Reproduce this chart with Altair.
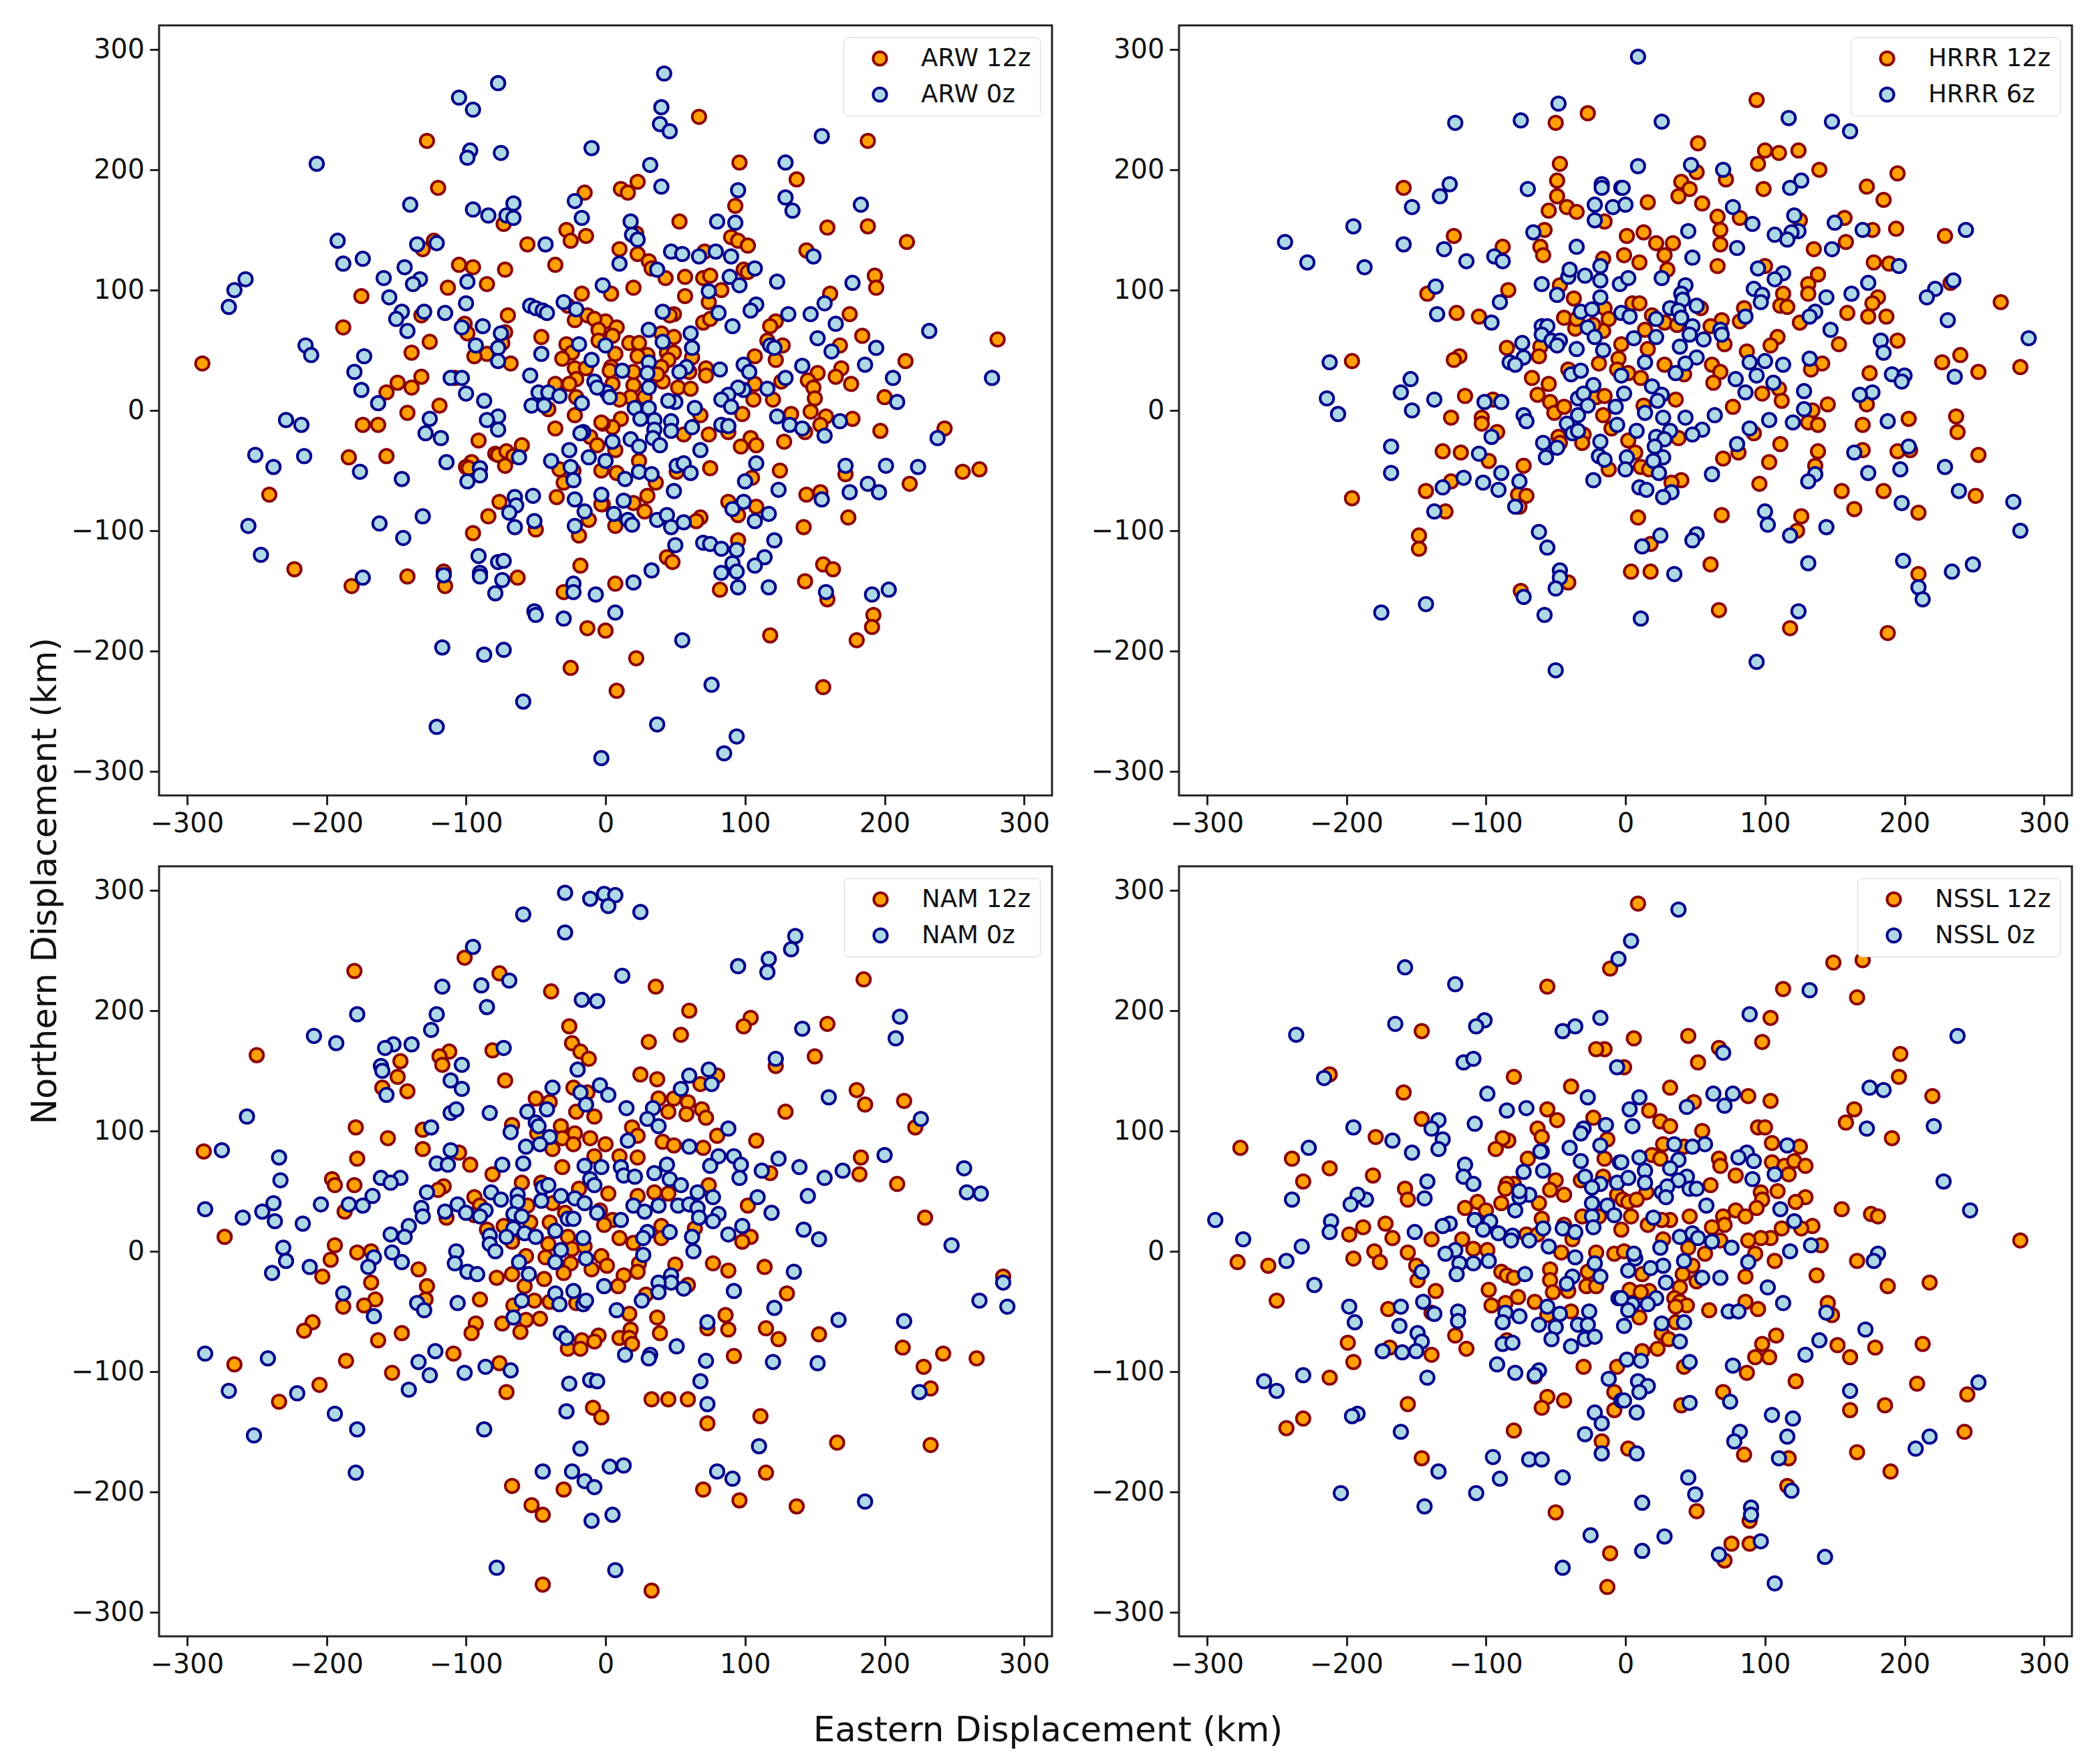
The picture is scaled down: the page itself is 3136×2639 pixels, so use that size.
import altair as alt
import pandas as pd

arw12 = [(67,244),(188,224),(96,206),(137,192),(11,184),(16,181),(23,190),(93,170),(53,157),(159,152),(188,153),(216,140),(22,147),(90,144),(95,141),(102,137),(10,134),(23,130),(144,133),(31,124),(33,118),(43,110),(71,132),(99,117),(102,115),(57,111),(70,110),(75,112),(193,112),(194,102),(20,102),(4,97),(83,100),(57,95),(161,97),(74,90),(49,80),(46,79),(175,80),(70,73),(75,76),(122,74),(118,70),(184,62),(116,58),(127,54),(122,42),(168,54),(40,64),(49,61),(17,56),(24,56),(0,74),(8,69),(5,62),(7,47),(107,45),(215,41),(281,59),(169,35),(165,28),(152,31),(145,25),(176,22),(149,19),(150,10),(200,11),(72,35),(72,29),(126,24),(120,9),(106,9),(107,22),(41,24),(52,19),(61,18),(20,21),(28,11),(18,11),(10,9),(44,48),(49,48),(30,46),(23,45),(62,44),(45,42),(4,36),(40,36),(20,32),(37,30),(60,32),(3,33),(5,22),
(11,-7),(5,-14),(-2,-11),(98,-3),(88,-18),(133,-3),(147,-1),(158,-5),(177,-7),(154,-12),(143,-18),(197,-17),(243,-15),(74,-20),(56,-20),(68,-4),(128,-26),(104,-23),(97,-30),(108,-29),(7,-33),(24,-42),(75,-48),(125,-50),(256,-51),(268,-49),(51,-51),(105,-56),(8,-52),(172,-53),(36,-60),(218,-61),(144,-70),(154,-68),(30,-71),(20,-77),(28,-84),(88,-76),(108,-80),(95,-87),(-2,-78),(174,-89),(68,-89),(65,-92),(142,-97),(7,-96),(95,-108),(44,-122),(48,-126),(156,-128),(163,-132),(143,-142),(7,-144),(82,-149),(159,-157),(192,-170),(191,-180),(0,-183),(118,-187),(180,-191),(22,-206),(8,-233),(156,-230),
(-128,224),(-120,185),(-73,155),(-15,181),(-28,150),(-25,141),(-14,145),(-56,138),(-123,141),(-131,134),(-105,121),(-95,119),(-72,117),(-36,121),(-85,105),(-113,102),(-175,95),(-17,97),(-27,87),(-132,79),(-70,79),(-101,72),(-99,64),(-72,65),(-74,56),(-13,79),(-22,75),(-8,76),(-5,67),(-5,58),(-188,69),(-126,57),(-139,48),(-46,61),(-28,55),(-24,48),(-31,43),(-85,47),(-94,45),(-68,39),(-289,39),(-22,35),(-14,35),(-21,26),(-26,22),(-36,22),(-132,28),(-149,23),(-139,19),(-157,15),(-108,27),(-119,4),(-21,11),
(-142,-2),(-174,-12),(-163,-12),(-36,-15),(-41,1),(-22,-4),(-3,-10),(-91,-25),(-60,-29),(-11,-22),(-6,-29),(-79,-36),(-77,-37),(-71,-34),(-66,-38),(-72,-46),(-184,-39),(-157,-38),(-96,-43),(-100,-47),(-98,-48),(-33,-49),(-30,-60),(-23,-50),(-3,-50),(-241,-70),(-76,-76),(-35,-72),(-3,-78),(-84,-88),(-12,-91),(-95,-102),(-50,-99),(-19,-104),(-18,-129),(-223,-132),(-142,-138),(-116,-134),(-115,-146),(-182,-146),(-63,-139),(-30,-151),(-13,-181),(-25,-214)]
arw0 = [(42,280),(40,252),(39,238),(46,232),(155,228),(129,206),(32,204),(40,186),(95,183),(129,177),(134,166),(183,171),(18,157),(80,157),(93,156),(19,146),(23,142),(47,132),(55,130),(67,128),(79,132),(90,128),(149,128),(10,122),(37,117),(107,118),(89,111),(96,104),(123,107),(177,106),(-2,104),(74,99),(157,89),(108,88),(104,83),(41,82),(81,81),(131,80),(147,80),(165,72),(91,70),(31,67),(232,66),(61,64),(152,60),(41,57),(62,52),(194,52),(118,54),(121,52),(162,49),(0,54),(186,38),(141,37),(82,34),(99,38),(103,32),(58,36),(53,32),(31,40),(30,31),(12,33),(206,27),(277,27),(129,27),(99,17),(95,19),(116,18),(31,19),(88,13),(83,9),(1,15),(3,11),(50,7),(45,8),(209,7),(64,2),(21,2),(31,2),(90,3),
(123,-5),(132,-12),(141,-15),(168,-9),(157,-21),(238,-23),(25,-7),(35,-8),(47,-9),(35,-16),(47,-17),(62,-14),(83,-12),(88,-13),(34,-23),(39,-29),(18,-24),(5,-26),(24,-30),(68,-33),(0,-42),(108,-44),(51,-46),(56,-44),(61,-52),(24,-51),(33,-53),(14,-57),(172,-46),(201,-46),(224,-47),(100,-59),(124,-66),(49,-67),(188,-61),(196,-68),(175,-68),(155,-74),(-3,-70),(13,-75),(99,-76),(91,-82),(117,-86),(107,-92),(6,-86),(16,-91),(19,-95),(37,-91),(44,-87),(47,-97),(56,-93),(121,-108),(50,-112),(70,-110),(75,-111),(83,-115),(94,-116),(114,-122),(91,-127),(107,-129),(94,-134),(83,-135),(33,-133),(20,-143),(95,-147),(117,-147),(158,-151),(191,-153),(203,-149),(7,-168),(55,-191),(76,-228),(37,-261),(94,-271),(85,-285),(-3,-289),
(-77,272),(-105,260),(-95,250),(-97,216),(-99,210),(-75,214),(-10,218),(-207,205),(-140,171),(-95,167),(-84,162),(-66,172),(-71,162),(-66,160),(-22,174),(-17,160),(-192,141),(-135,138),(-121,139),(-43,138),(-188,122),(-174,126),(-144,119),(-159,110),(-133,109),(-138,105),(-99,107),(-258,109),(-266,100),(-270,86),(-155,94),(-100,89),(-146,82),(-130,82),(-150,76),(-115,81),(-142,66),(-103,69),(-88,70),(-75,64),(-93,54),(-77,52),(-77,41),(-54,87),(-50,85),(-45,83),(-42,81),(-30,90),(-21,84),(-19,55),(-46,47),(-10,42),(-215,54),(-211,46),(-173,45),(-180,32),(-175,17),(-163,6),(-111,27),(-103,27),(-100,14),(-87,8),(-54,29),(-48,15),(-41,15),(-33,12),(-8,24),(-6,19),(-53,4),(-44,4),(-17,6),
(-229,-8),(-218,-12),(-126,-7),(-77,-5),(-85,-8),(-77,-16),(-129,-19),(-118,-23),(-16,-18),(-18,-19),(-251,-37),(-238,-47),(-216,-38),(-176,-51),(-146,-57),(-114,-43),(-90,-48),(-90,-54),(-99,-59),(-62,-39),(-39,-42),(-26,-33),(-12,-39),(-25,-47),(-23,-58),(-65,-72),(-64,-79),(-52,-71),(-69,-85),(-65,-97),(-51,-92),(-22,-74),(-15,-84),(-22,-96),(-256,-96),(-247,-120),(-162,-94),(-131,-88),(-145,-106),(-91,-121),(-77,-126),(-73,-125),(-90,-135),(-90,-138),(-74,-141),(-79,-152),(-174,-139),(-116,-137),(-23,-144),(-23,-151),(-7,-153),(-51,-167),(-50,-170),(-30,-173),(-117,-197),(-87,-203),(-73,-199),(-59,-242),(-121,-263)]

hrrr12 = [(-50,239),(-27,247),(-47,205),(-49,191),(-49,178),(-159,185),(-55,166),(-42,169),(-35,165),(-15,157),(-58,150),(-123,145),(-88,136),(-61,136),(-59,129),(-16,126),(-142,97),(-84,100),(-47,104),(-37,93),(-121,81),(-105,78),(-44,77),(-36,68),(-35,76),(-15,85),(-12,76),(-16,66),(-23,71),(-85,52),(-61,53),(-62,45),(-5,43),(-119,45),(-123,42),(-196,41),(-19,39),(-41,34),(-6,34),(-67,27),(-55,22),(-63,13),(-54,7),(-115,12),(-95,9),(-51,-2),(-44,3),(-21,11),(-15,12),(-125,-6),(-103,-6),(-103,-11),(-16,-4),(-92,-18),(-10,-15),(-48,-22),(-30,-20),(-31,-27),(-47,-27),(-131,-34),(-118,-35),(-98,-42),(-73,-46),(-12,-49),(-125,-59),(-143,-67),(-77,-70),(-71,-71),(-76,-80),(-196,-73),(-129,-84),(-148,-104),(-148,-115),(-41,-143),(-75,-150),
(94,258),(52,222),(100,216),(110,214),(124,216),(95,205),(139,200),(195,197),(51,198),(40,190),(72,192),(99,184),(46,184),(38,178),(173,186),(185,175),(16,173),(55,172),(66,161),(82,160),(157,160),(125,158),(68,150),(177,150),(194,151),(229,145),(1,145),(13,148),(22,139),(34,139),(68,138),(158,140),(135,134),(28,129),(-1,129),(10,123),(178,123),(189,122),(66,120),(100,120),(30,117),(138,113),(131,105),(131,97),(113,97),(233,106),(181,94),(177,89),(269,90),(5,89),(10,89),(54,85),(85,85),(111,87),(116,86),(159,81),(174,78),(187,78),(19,79),(82,74),(69,75),(125,73),(28,73),(37,71),(61,70),(14,67),(109,61),(195,58),(153,55),(104,54),(71,55),(16,51),(-3,55),(87,49),(240,46),(227,40),(141,39),(28,38),(62,38),(133,34),(253,32),(283,36),(175,31),(68,32),(11,27),(2,31),(42,30),(63,23),(110,18),(98,14),(36,9),(112,8),(145,5),(77,3),(173,5),(134,0),(13,4),(203,-7),(237,-5),(238,-18),(131,-10),(138,-12),(170,-12),(92,-19),(38,-23),(2,-25),(111,-28),(170,-33),(195,-34),(204,-33),(138,-34),(81,-35),(70,-40),(103,-43),(253,-37),(7,-35),(11,-47),(17,-49),(136,-46),(96,-61),(40,-58),(33,-60),(155,-67),(185,-67),(251,-71),(164,-82),(210,-85),(69,-87),(9,-89),(126,-88),(123,-100),(18,-111),(61,-128),(4,-134),(18,-134),(210,-136),(67,-166),(118,-181),(188,-185)]
hrrr6 = [(-48,255),(-122,239),(-75,241),(-70,184),(-126,188),(-133,178),(-153,169),(-195,153),(-244,140),(-228,123),(-187,119),(-159,138),(-130,134),(-114,124),(-94,128),(-88,124),(-66,148),(-35,136),(-22,158),(-22,171),(-17,188),(-17,185),(-3,185),(-9,169),(-60,105),(-41,111),(-40,117),(-29,112),(-18,120),(-18,108),(-4,105),(-136,103),(-90,90),(-49,96),(-18,94),(-135,80),(-96,73),(-32,82),(-24,84),(-3,81),(-60,70),(-56,70),(-60,63),(-27,69),(-22,61),(-53,58),(-47,58),(-49,54),(-74,56),(-73,44),(-83,40),(-79,38),(-35,51),(-16,50),(-212,40),(-39,30),(-32,33),(-23,21),(-154,26),(-161,15),(-214,10),(-206,-3),(-137,9),(-101,7),(-89,7),(-34,10),(-30,14),(-153,0),(-73,-4),(-71,-9),(-27,4),(-34,-4),(-7,3),(-42,-11),(-38,-19),(-34,-17),(-6,-12),(-96,-22),(-168,-30),(-59,-27),(-49,-31),(-18,-26),(-105,-36),(-57,-39),(-19,-38),(-15,-41),(-168,-52),(-116,-56),(-89,-52),(-76,-59),(-102,-60),(-131,-64),(-91,-66),(-23,-58),(-79,-80),(-137,-84),(-62,-101),(-56,-114),(-47,-133),(-47,-139),(-50,-148),(-143,-161),(-175,-168),(-73,-155),(-58,-170),(-50,-216),
(9,294),(26,240),(117,243),(148,240),(161,232),(9,203),(47,204),(70,200),(126,191),(118,185),(-2,185),(0,171),(77,169),(150,156),(121,162),(91,155),(170,150),(244,150),(45,149),(124,149),(107,146),(119,148),(116,142),(80,135),(148,134),(48,127),(196,120),(95,118),(113,114),(107,109),(2,110),(26,110),(43,104),(174,106),(235,108),(92,101),(40,97),(222,101),(98,96),(162,97),(144,94),(216,94),(41,92),(97,90),(51,87),(32,85),(38,83),(22,76),(3,78),(86,78),(136,82),(132,78),(231,75),(40,77),(48,70),(147,67),(68,67),(69,63),(46,63),(22,61),(56,59),(6,60),(183,58),(289,60),(39,53),(185,48),(51,44),(132,43),(100,41),(89,40),(113,38),(43,39),(14,40),(191,30),(200,29),(198,24),(236,28),(36,31),(94,29),(-3,29),(79,26),(106,23),(19,20),(86,15),(128,16),(26,13),(177,15),(168,13),(-1,14),(23,8),(128,1),(14,-2),(64,-4),(27,-6),(43,-6),(103,-8),(120,-10),(188,-9),(55,-16),(89,-15),(8,-17),(32,-17),(48,-20),(22,-22),(28,-24),(21,-30),(80,-28),(203,-30),(164,-35),(1,-39),(27,-39),(20,-42),(0,-49),(197,-49),(229,-47),(24,-52),(62,-53),(174,-52),(136,-53),(131,-59),(10,-64),(15,-66),(33,-68),(27,-72),(239,-67),(278,-76),(198,-77),(100,-84),(102,-95),(283,-100),(144,-97),(118,-104),(25,-104),(51,-103),(48,-108),(12,-113),(131,-127),(199,-125),(249,-128),(234,-134),(35,-136),(210,-147),(213,-157),(124,-167),(11,-173),(94,-209)]

nam12 = [(-101,244),(-180,233),(-76,231),(-39,216),(-26,187),(-24,173),(-18,166),(-12,160),(-250,163),(-112,166),(-119,162),(-117,155),(-81,167),(-147,158),(-149,145),(-72,142),(-160,136),(-142,133),(-23,136),(-13,132),(-50,127),(-40,124),(-21,116),(-8,112),(-179,103),(-156,94),(-131,101),(-67,105),(-32,104),(-22,98),(-49,98),(-31,94),(-11,94),(-23,89),(-288,83),(-38,85),(-131,85),(-105,82),(-8,79),(-178,77),(-97,72),(-31,70),(-81,64),(-196,60),(-194,55),(-180,55),(-60,57),(-46,57),(-116,54),(-120,51),(-94,45),(-19,52),(-90,38),(-187,33),(-38,40),(-56,38),(-4,34),(-94,30),(-114,28),(-29,32),(-54,24),(-73,21),(-85,18),(-40,24),(-27,12),(-273,12),(-57,-4),(-41,6),(-67,8),(-194,5),(-178,-1),(-168,0),(-24,2),(-15,4),(-43,-5),(-3,-4),(-197,-7),(-25,-10),(-10,-15),(-30,-18),(-134,-15),(-78,-22),(-67,-19),(-203,-21),(-44,-23),(-168,-26),(-128,-29),(-58,-29),(-90,-40),(-51,-41),(-165,-40),(-188,-46),(-173,-45),(-129,-40),(-66,-45),(-21,-43),(-40,-42),(-210,-59),(-216,-66),(-93,-60),(-74,-60),(-57,-57),(-47,-56),(-96,-68),(-146,-68),(-61,-67),(-163,-74),(-5,-70),(-17,-74),(-8,-75),(-27,-81),(-18,-81),(-109,-85),(-266,-94),(-186,-91),(-76,-93),(-153,-101),(-205,-111),(-71,-117),(-234,-125),(-9,-130),(-3,-138),(-67,-195),(-30,-198),(-53,-211),(-45,-219),(-45,-277),
(185,226),(36,220),(60,200),(104,194),(99,187),(159,189),(54,180),(31,174),(150,162),(122,154),(25,147),(37,143),(80,146),(68,139),(180,134),(214,125),(186,122),(38,127),(49,127),(59,124),(69,118),(45,116),(58,114),(72,111),(129,116),(222,103),(19,103),(23,96),(80,96),(108,92),(41,91),(49,88),(0,89),(70,86),(10,79),(23,78),(183,78),(118,65),(182,64),(209,56),(74,55),(2,48),(23,46),(35,49),(45,48),(102,38),(229,28),(40,21),(64,19),(5,26),(-1,22),(10,11),(40,11),(20,7),(104,12),(98,8),(1,-12),(50,-11),(77,-10),(88,-16),(114,-13),(24,-10),(23,-17),(13,-20),(9,-29),(29,-36),(59,-28),(130,-35),(285,-21),(17,-52),(37,-55),(86,-53),(39,-68),(88,-65),(115,-64),(18,-65),(73,-64),(124,-73),(153,-69),(10,-72),(17,-72),(19,-77),(213,-80),(242,-85),(92,-87),(266,-89),(228,-96),(233,-114),(33,-123),(45,-123),(59,-123),(111,-137),(73,-143),(166,-159),(233,-161),(115,-184),(70,-198),(96,-207),(137,-212),(33,-282)]
nam0 = [(-29,298),(-11,293),(-1,297),(-59,280),(-29,265),(-95,253),(-69,225),(-117,220),(-89,221),(-85,203),(-17,209),(-6,208),(-178,197),(-121,197),(-125,184),(-209,179),(-193,173),(-139,172),(-152,172),(-158,169),(-73,169),(-161,154),(-160,150),(-103,155),(-20,151),(-111,142),(-103,135),(-157,130),(-38,136),(-4,138),(-18,132),(-14,122),(-42,118),(-56,116),(-257,112),(-111,115),(-107,118),(-83,115),(-50,107),(-48,104),(-125,103),(-68,99),(-40,95),(-47,89),(-57,87),(-275,84),(-234,78),(-111,84),(-121,73),(-113,72),(-74,72),(-59,73),(-15,71),(-3,70),(-233,59),(-161,61),(-147,61),(-154,57),(-11,60),(-8,55),(-128,49),(-82,49),(-45,53),(-41,55),(-63,47),(-167,46),(-32,46),(-22,44),(-75,43),(-46,42),(-15,40),(-238,40),(-204,39),(-184,39),(-174,38),(-106,39),(-132,36),(-63,41),(-287,35),(-246,33),(-115,33),(-100,32),(-86,34),(-6,32),(-131,29),(-90,29),(-66,31),(-60,29),(-260,28),(-27,27),(-23,27),(-237,25),(-217,23),(-141,21),(-66,19),(-36,17),(-154,14),(-144,12),(-58,15),(-83,13),(-71,12),(-50,12),(-16,11),(-83,6),(-79,0),(-231,3),(-107,0),(-32,1),(-153,-1),(-166,-5),(-229,-8),(-108,-10),(-62,-9),(-36,-9),(-14,-6),(-212,-13),(-170,-13),(-146,-9),(-99,-17),(-92,-19),(-239,-18),(-55,-19),(-188,-35),(-36,-35),(-23,-33),(-135,-43),(-106,-43),(-60,-41),(-130,-49),(-33,-44),(-16,-44),(-14,-41),(-166,-54),(-66,-55),(-32,-68),(-28,-72),(-287,-85),(-122,-83),(-242,-89),(-134,-92),(-86,-96),(-68,-99),(-101,-101),(-126,-103),(-270,-116),(-141,-115),(-221,-118),(-26,-110),(-11,-107),(-6,-108),(-28,-133),(-194,-135),(-178,-148),(-87,-148),(-252,-153),(-18,-164),(-179,-184),(-45,-183),(-24,-183),(-15,-191),(-8,-196),(-10,-224),(-78,-263),
(7,296),(2,287),(25,282),(136,262),(133,251),(117,243),(116,232),(95,237),(12,229),(211,195),(208,177),(141,185),(122,160),(74,151),(76,139),(60,146),(54,135),(160,128),(226,110),(2,130),(15,119),(34,119),(30,110),(38,104),(88,102),(16,92),(60,87),(200,80),(124,77),(257,69),(81,79),(92,79),(97,72),(75,71),(44,72),(139,70),(170,67),(112,67),(96,61),(157,61),(35,65),(11,70),(13,63),(21,62),(46,60),(54,55),(259,49),(269,48),(145,46),(66,49),(77,45),(109,45),(20,38),(38,38),(52,38),(28,33),(60,39),(66,36),(67,28),(81,31),(77,25),(119,32),(11,26),(98,21),(142,18),(46,16),(30,16),(27,11),(88,14),(153,10),(62,12),(248,5),(27,-3),(63,0),(135,-17),(47,-20),(47,-26),(38,-26),(38,-34),(56,-31),(-1,-29),(92,-33),(26,-41),(285,-26),(268,-41),(288,-46),(121,-47),(8,-49),(167,-57),(214,-58),(73,-59),(51,-79),(32,-86),(14,-86),(31,-89),(72,-91),(120,-92),(152,-93),(68,-108),(225,-117),(73,-127),(110,-162),(13,-178),(3,-179),(80,-183),(91,-189),(186,-208),(5,-219),(7,-265)]

nssl12 = [(-11,235),(-56,220),(-146,183),(-15,168),(-21,168),(-212,147),(-80,145),(-159,132),(-39,137),(-56,118),(-146,110),(-49,109),(-23,111),(-63,102),(-13,93),(-60,95),(-84,92),(-88,94),(-93,85),(-276,86),(-179,95),(-239,77),(-70,77),(-15,77),(-212,69),(-181,63),(-231,58),(-50,59),(-16,62),(-80,56),(-85,56),(-86,52),(-32,59),(-158,52),(-156,43),(-54,51),(-44,47),(-6,47),(-106,41),(-115,36),(-100,34),(-89,40),(-62,40),(-31,29),(-19,29),(-60,27),(-44,22),(-172,23),(-188,20),(-198,14),(-167,11),(-139,10),(-117,10),(-71,14),(-63,14),(-38,10),(-109,2),(-99,1),(-180,0),(-156,-1),(-46,-1),(-21,-1),(-8,-2),(-278,-9),(-256,-12),(-195,-6),(-176,-9),(-150,-12),(-54,-15),(-89,-17),(-85,-20),(-80,-22),(-54,-24),(-27,-17),(-149,-24),(-98,-32),(-136,-33),(-52,-34),(-41,-33),(-28,-29),(-21,-29),(-250,-41),(-77,-38),(-65,-42),(-86,-43),(-96,-45),(-170,-48),(-139,-51),(-56,-53),(-39,-50),(-122,-70),(-199,-76),(-169,-80),(-114,-81),(-139,-86),(-85,-74),(-195,-92),(-30,-96),(-6,-96),(-212,-105),(-65,-104),(-8,-117),(-156,-127),(-56,-121),(-44,-124),(-60,-130),(-8,-132),(-231,-139),(-243,-147),(-80,-149),(-17,-158),(-146,-172),(-50,-217),(-11,-251),(-13,-279),
(9,289),(170,242),(149,240),(113,218),(166,211),(104,194),(6,177),(45,179),(98,174),(67,169),(197,164),(52,157),(-1,153),(196,145),(32,136),(49,124),(88,129),(104,125),(220,129),(17,117),(164,118),(158,107),(25,108),(32,104),(95,103),(100,103),(55,100),(191,94),(27,89),(105,90),(125,87),(42,87),(19,80),(25,77),(67,77),(68,71),(105,74),(114,71),(121,75),(129,71),(79,63),(117,64),(61,55),(109,50),(97,49),(98,43),(15,49),(-2,43),(2,41),(8,43),(129,45),(122,41),(94,36),(79,34),(155,35),(176,31),(181,29),(70,29),(86,29),(4,29),(46,29),(32,26),(26,26),(16,22),(71,22),(62,20),(112,19),(134,21),(126,19),(-3,18),(27,10),(104,11),(97,11),(88,9),(68,9),(283,9),(140,5),(45,3),(-1,0),(57,-2),(93,-2),(107,-8),(166,-8),(48,-12),(41,-19),(12,-19),(86,-21),(137,-20),(51,-25),(188,-29),(218,-26),(39,-30),(3,-32),(17,-33),(11,-34),(35,-39),(39,-42),(44,-45),(36,-46),(86,-42),(145,-43),(95,-48),(60,-49),(148,-53),(10,-55),(36,-59),(108,-70),(26,-68),(31,-73),(98,-77),(152,-78),(213,-77),(23,-81),(12,-83),(179,-80),(161,-88),(93,-88),(103,-88),(42,-96),(87,-101),(122,-108),(209,-110),(70,-117),(245,-119),(186,-128),(40,-128),(161,-132),(243,-150),(2,-164),(85,-169),(117,-172),(166,-167),(190,-183),(116,-195),(51,-216),(89,-224),(76,-243),(89,-243),(71,-257)]
nssl0 = [(-158,236),(-122,222),(-5,243),(-236,180),(-165,189),(-101,192),(-107,187),(-36,187),(-45,183),(-18,194),(-116,157),(-109,160),(-6,153),(-216,144),(-99,131),(-27,128),(-85,117),(-71,119),(-14,105),(-108,106),(-134,109),(-139,102),(-195,103),(-167,92),(-131,93),(-30,102),(-32,98),(-18,88),(-40,86),(-227,86),(-134,85),(-153,82),(-60,83),(-61,83),(-115,72),(-32,75),(-4,74),(-59,67),(-73,66),(-116,62),(-109,56),(-29,62),(-142,58),(-6,57),(-18,56),(-24,53),(-239,43),(-144,44),(-186,43),(-192,47),(-197,39),(-69,47),(-76,45),(-76,50),(-79,34),(-24,40),(-13,38),(-8,30),(-24,29),(-23,20),(-294,26),(-211,25),(-126,23),(-131,21),(-108,26),(-97,25),(-102,18),(-212,16),(-151,16),(-91,15),(-81,13),(-82,9),(-69,9),(-59,19),(-45,19),(-36,16),(-55,4),(-274,10),(-232,4),(-122,1),(-129,-2),(-243,-8),(-109,-10),(-98,-8),(-119,-10),(-36,-5),(-22,-10),(-146,-17),(-121,-19),(-72,-19),(-38,-21),(-42,-27),(-18,-21),(-223,-28),(-145,-42),(-198,-46),(-161,-46),(-5,-39),(-56,-46),(-137,-52),(-120,-50),(-86,-51),(-76,-54),(-26,-50),(-47,-52),(-194,-59),(-120,-58),(-88,-59),(-162,-62),(-62,-61),(-50,-63),(-34,-61),(-27,-61),(-149,-68),(-146,-75),(-53,-73),(-29,-73),(-22,-71),(-39,-79),(-88,-77),(-81,-76),(-150,-83),(-160,-84),(-174,-83),(-92,-94),(-231,-103),(-79,-101),(-62,-99),(-65,-103),(-142,-105),(-12,-106),(-259,-108),(-250,-116),(-3,-124),(-22,-134),(-192,-135),(-196,-137),(-17,-143),(-161,-150),(-29,-152),(-17,-168),(-95,-171),(-69,-173),(-60,-173),(-134,-183),(-90,-189),(-45,-188),(-204,-201),(-107,-201),(-144,-212),(-25,-236),(-45,-263),
(38,284),(4,258),(132,217),(89,197),(238,179),(70,165),(175,136),(185,134),(63,131),(77,131),(10,128),(71,121),(44,120),(3,118),(173,102),(221,104),(5,104),(35,89),(57,89),(48,87),(116,88),(10,78),(87,82),(81,78),(38,76),(92,75),(-3,74),(32,69),(14,67),(2,61),(44,62),(91,60),(107,64),(38,59),(14,57),(228,58),(46,52),(51,52),(26,49),(30,54),(29,45),(58,38),(111,35),(247,34),(20,28),(121,25),(39,12),(48,15),(52,11),(62,8),(76,3),(25,3),(133,5),(118,0),(181,-2),(178,-8),(7,-6),(6,-2),(88,-9),(42,-8),(27,-12),(18,-14),(2,-16),(55,-22),(68,-22),(29,-26),(102,-30),(22,-39),(5,-44),(-3,-39),(16,-44),(2,-49),(113,-43),(74,-50),(81,-50),(144,-51),(42,-59),(26,-60),(-1,-62),(172,-65),(139,-74),(39,-75),(129,-86),(1,-90),(11,-91),(46,-92),(77,-95),(9,-108),(16,-112),(10,-117),(253,-109),(161,-116),(-1,-124),(75,-125),(46,-126),(8,-134),(105,-136),(120,-139),(82,-150),(78,-158),(116,-154),(218,-154),(208,-164),(8,-168),(110,-172),(45,-188),(50,-202),(119,-199),(12,-209),(90,-213),(90,-219),(28,-237),(12,-249),(97,-241),(67,-252),(143,-254),(107,-276)]

tick_values = [-300, -200, -100, 0, 100, 200, 300]
FILL = ["#FFA000", "#ADD8E6"]
STROKE = ["#8B0000", "#00008B"]
FONT = "DejaVu Sans"


def panel(label_a, pts_a, label_b, pts_b):
    rows = [{"x": x, "y": y, "series": label_a} for x, y in pts_a]
    rows += [{"x": x, "y": y, "series": label_b} for x, y in pts_b]
    df = pd.DataFrame(rows)
    dom = [label_a, label_b]
    leg = alt.Legend(
        title=None, orient="top-right", offset=18, padding=13,
        fillColor="white", strokeColor="#d4d4d4", cornerRadius=6,
        symbolType="circle", symbolSize=410, symbolStrokeWidth=4,
        symbolOffset=23, labelOffset=43, rowPadding=16,
        labelFontSize=37, labelFont=FONT, labelColor="#111111", labelLimit=400,
    )
    ax = lambda: alt.Axis(
        values=tick_values, title=None, grid=False, domain=False,
        tickSize=14, tickWidth=3, tickColor="#222222", labelPadding=8,
        labelFontSize=40, labelFont=FONT, labelColor="#111111",
        labelFlush=False, labelOverlap=False,
    )
    return alt.Chart(df).mark_circle(size=410, opacity=1, strokeWidth=4).encode(
        x=alt.X("x:Q", axis=ax(), scale=alt.Scale(domain=[-320, 320], nice=False, zero=False)),
        y=alt.Y("y:Q", axis=ax(), scale=alt.Scale(domain=[-320, 320], nice=False, zero=False)),
        fill=alt.Fill("series:N", scale=alt.Scale(domain=dom, range=FILL), legend=leg),
        stroke=alt.Stroke("series:N", scale=alt.Scale(domain=dom, range=STROKE), legend=leg),
    ).properties(width=1336, height=1152)


def indep(c):
    return c.resolve_scale(fill="independent", stroke="independent")


row1 = indep(alt.hconcat(panel("ARW 12z", arw12, "ARW 0z", arw0),
                         panel("HRRR 12z", hrrr12, "HRRR 6z", hrrr6), spacing=54))
row2 = indep(alt.hconcat(panel("NAM 12z", nam12, "NAM 0z", nam0),
                         panel("NSSL 12z", nssl12, "NSSL 0z", nssl0), spacing=54))

inner = indep(alt.vconcat(row1, row2, spacing=40)).properties(
    title=alt.TitleParams("Northern Displacement (km)", orient="left", anchor="middle",
                          fontSize=51, font=FONT, fontWeight="normal", color="#111111",
                          offset=10, dx=-44)
)
chart = indep(alt.vconcat(inner)).properties(
    title=alt.TitleParams("Eastern Displacement (km)", orient="bottom", anchor="middle",
                          fontSize=51.5, font=FONT, fontWeight="normal", color="#111111",
                          offset=52, dx=-4),
    padding={"left": 34, "top": 28, "right": 20, "bottom": 20},
    background="white",
).configure_view(stroke="#222222", strokeWidth=3)

chart.save("out.html", embed_options={"renderer": "svg", "actions": False})
